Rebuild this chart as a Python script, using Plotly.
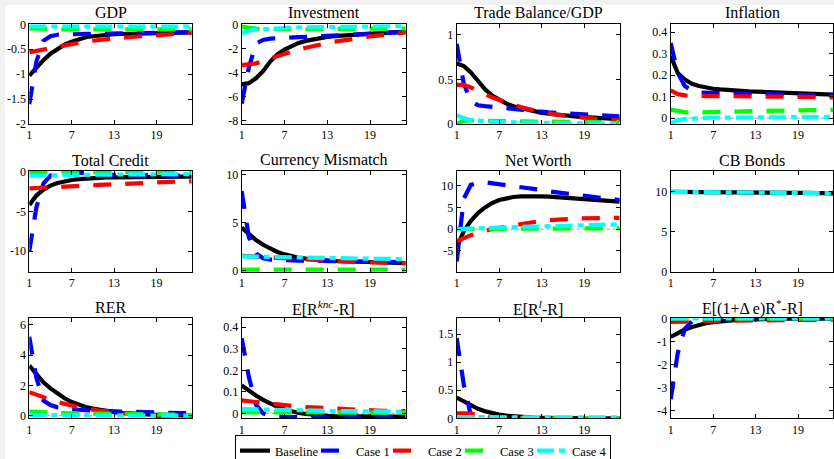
import plotly.graph_objects as go

periods = list(range(1, 25))
x_tick_vals = [1, 7, 13, 19]
x_tick_text = ["1", "7", "13", "19"]

series_names = ["Baseline", "Case 1", "Case 2", "Case 3", "Case 4"]
series_colors = ["#000000", "#0000ff", "#ff0000", "#00ff00", "#00ffff"]

# ---- GDP ----
gdp_base = [-1.03, -0.87, -0.72, -0.59, -0.49, -0.41, -0.35, -0.30, -0.26, -0.24, -0.22, -0.21,
            -0.20, -0.195, -0.19, -0.185, -0.18, -0.18, -0.175, -0.17, -0.17, -0.165, -0.16, -0.16]
gdp_c1 = [-1.60, -0.75, -0.33, -0.24, -0.21, -0.20, -0.20, -0.20, -0.19, -0.19, -0.19, -0.18,
          -0.18, -0.18, -0.18, -0.17, -0.17, -0.17, -0.17, -0.16, -0.16, -0.16, -0.16, -0.16]
gdp_c2 = [-0.56, -0.54, -0.51, -0.48, -0.45, -0.42, -0.39, -0.37, -0.35, -0.33, -0.31, -0.30,
          -0.28, -0.27, -0.26, -0.25, -0.24, -0.23, -0.22, -0.21, -0.20, -0.19, -0.18, -0.17]
gdp_c3 = [-0.08, -0.09, -0.09, -0.10, -0.10, -0.10, -0.10, -0.10, -0.10, -0.10, -0.10, -0.10,
          -0.10, -0.10, -0.10, -0.10, -0.10, -0.10, -0.10, -0.10, -0.10, -0.10, -0.10, -0.10]
gdp_c4 = [-0.04, -0.04, -0.04, -0.04, -0.04, -0.04, -0.04, -0.04, -0.04, -0.04, -0.04, -0.04,
          -0.04, -0.04, -0.04, -0.04, -0.04, -0.04, -0.04, -0.04, -0.04, -0.04, -0.04, -0.04]

# ---- Investment ----
inv_base = [-5.0, -4.9, -4.5, -3.9, -3.1, -2.5, -2.1, -1.8, -1.55, -1.38, -1.25, -1.14,
            -1.05, -0.98, -0.93, -0.88, -0.84, -0.80, -0.77, -0.74, -0.71, -0.68, -0.65, -0.62]
inv_c1 = [-6.6, -3.6, -1.6, -1.3, -1.2, -1.15, -1.1, -1.08, -1.06, -1.04, -1.02, -1.0,
          -0.97, -0.94, -0.91, -0.88, -0.85, -0.82, -0.79, -0.76, -0.73, -0.70, -0.67, -0.64]
inv_c2 = [-3.4, -3.35, -3.25, -3.05, -2.85, -2.7, -2.5, -2.3, -2.1, -1.95, -1.8, -1.68,
          -1.56, -1.45, -1.35, -1.26, -1.17, -1.09, -1.01, -0.94, -0.87, -0.80, -0.74, -0.68]
inv_c3 = [-0.2, -0.3, -0.36, -0.39, -0.40, -0.41, -0.41, -0.41, -0.40, -0.40, -0.40, -0.39,
          -0.39, -0.38, -0.38, -0.38, -0.37, -0.37, -0.37, -0.36, -0.36, -0.36, -0.35, -0.35]
inv_c4 = [-0.75, -0.55, -0.45, -0.40, -0.36, -0.33, -0.30, -0.28, -0.26, -0.25, -0.24, -0.23,
          -0.22, -0.21, -0.20, -0.19, -0.18, -0.18, -0.17, -0.16, -0.16, -0.15, -0.15, -0.14]

# ---- Trade Balance/GDP ----
tb_base = [0.68, 0.65, 0.58, 0.48, 0.39, 0.32, 0.27, 0.23, 0.20, 0.18, 0.16, 0.14,
           0.125, 0.115, 0.105, 0.097, 0.09, 0.083, 0.077, 0.072, 0.067, 0.062, 0.058, 0.054]
tb_c1 = [0.90, 0.45, 0.26, 0.21, 0.20, 0.195, 0.19, 0.18, 0.17, 0.16, 0.15, 0.14,
         0.135, 0.13, 0.125, 0.12, 0.115, 0.11, 0.105, 0.10, 0.097, 0.094, 0.09, 0.087]
tb_c2 = [0.44, 0.44, 0.41, 0.37, 0.33, 0.30, 0.27, 0.24, 0.21, 0.19, 0.17, 0.15,
         0.135, 0.12, 0.105, 0.095, 0.085, 0.075, 0.067, 0.06, 0.055, 0.05, 0.046, 0.042]
tb_c3 = [0.0, 0.035, 0.04, 0.04, 0.038, 0.036, 0.034, 0.032, 0.031, 0.03, 0.029, 0.028,
         0.027, 0.026, 0.025, 0.024, 0.023, 0.022, 0.022, 0.021, 0.02, 0.02, 0.019, 0.019]
tb_c4 = [0.10, 0.065, 0.045, 0.035, 0.028, 0.024, 0.02, 0.018, 0.016, 0.014, 0.013, 0.012,
         0.011, 0.01, 0.01, 0.009, 0.009, 0.008, 0.008, 0.007, 0.007, 0.007, 0.006, 0.006]

# ---- Inflation ----
inf_base = [0.29, 0.21, 0.18, 0.16, 0.15, 0.142, 0.137, 0.134, 0.131, 0.129, 0.127, 0.125,
            0.124, 0.123, 0.122, 0.121, 0.12, 0.118, 0.117, 0.115, 0.114, 0.112, 0.111, 0.11]
inf_c1 = [0.35, 0.21, 0.15, 0.128, 0.12, 0.118, 0.117, 0.117, 0.116, 0.116, 0.115, 0.115,
          0.114, 0.114, 0.113, 0.113, 0.112, 0.111, 0.11, 0.109, 0.108, 0.107, 0.106, 0.105]
inf_c2 = [0.13, 0.112, 0.106, 0.104, 0.103, 0.103, 0.103, 0.103, 0.103, 0.102, 0.102, 0.102,
          0.102, 0.101, 0.101, 0.101, 0.1, 0.1, 0.1, 0.099, 0.099, 0.098, 0.098, 0.097]
inf_c3 = [0.04, 0.032, 0.028, 0.026, 0.026, 0.027, 0.028, 0.029, 0.03, 0.031, 0.032, 0.033,
          0.034, 0.035, 0.035, 0.036, 0.036, 0.037, 0.037, 0.038, 0.038, 0.038, 0.039, 0.039]
inf_c4 = [-0.025, -0.01, -0.004, -0.001, 0.0, 0.001, 0.002, 0.002, 0.003, 0.003, 0.003, 0.004,
          0.004, 0.004, 0.004, 0.005, 0.005, 0.005, 0.005, 0.005, 0.006, 0.006, 0.006, 0.006]

# ---- Total Credit ----
tc_base = [-4.2, -3.0, -2.25, -1.75, -1.42, -1.2, -1.05, -0.94, -0.86, -0.8, -0.76, -0.73,
           -0.71, -0.69, -0.68, -0.67, -0.66, -0.65, -0.65, -0.64, -0.64, -0.63, -0.63, -0.63]
tc_c1 = [-10.0, -4.5, -1.5, -0.5, -0.15, 0.0, -0.05, -0.15, -0.25, -0.3, -0.35, -0.38,
         -0.4, -0.42, -0.44, -0.45, -0.46, -0.47, -0.48, -0.49, -0.5, -0.5, -0.5, -0.5]
tc_c2 = [-2.1, -2.07, -2.03, -1.99, -1.95, -1.9, -1.86, -1.81, -1.76, -1.71, -1.66, -1.61,
         -1.57, -1.53, -1.49, -1.45, -1.42, -1.38, -1.35, -1.32, -1.29, -1.26, -1.24, -1.22]
tc_c3 = [-0.05, -0.05, -0.05, -0.05, -0.05, -0.05, -0.05, -0.05, -0.05, -0.05, -0.05, -0.05,
         -0.05, -0.05, -0.05, -0.05, -0.05, -0.05, -0.05, -0.05, -0.05, -0.05, -0.05, -0.05]
tc_c4 = [-0.55, -0.5, -0.46, -0.44, -0.42, -0.41, -0.4, -0.39, -0.38, -0.37, -0.36, -0.36,
         -0.35, -0.35, -0.34, -0.34, -0.33, -0.33, -0.32, -0.32, -0.31, -0.31, -0.3, -0.3]

# ---- Currency Mismatch ----
cm_base = [4.5, 3.8, 3.2, 2.7, 2.3, 1.95, 1.7, 1.5, 1.35, 1.25, 1.17, 1.1,
           1.05, 1.01, 0.98, 0.95, 0.92, 0.9, 0.88, 0.86, 0.84, 0.82, 0.8, 0.78]
cm_c1 = [8.3, 3.5, 1.8, 1.3, 1.15, 1.1, 1.07, 1.05, 1.04, 1.03, 1.02, 1.01,
         1.0, 0.99, 0.98, 0.97, 0.96, 0.95, 0.94, 0.93, 0.92, 0.91, 0.9, 0.89]
cm_c2 = [1.55, 1.5, 1.45, 1.4, 1.35, 1.3, 1.25, 1.2, 1.16, 1.12, 1.08, 1.05,
         1.02, 0.99, 0.96, 0.94, 0.91, 0.89, 0.87, 0.85, 0.83, 0.81, 0.79, 0.77]
cm_c3 = [0.1, 0.1, 0.1, 0.1, 0.1, 0.1, 0.1, 0.1, 0.1, 0.1, 0.1, 0.1,
         0.1, 0.1, 0.1, 0.1, 0.1, 0.1, 0.1, 0.1, 0.1, 0.1, 0.1, 0.1]
cm_c4 = [1.5, 1.48, 1.46, 1.45, 1.43, 1.42, 1.4, 1.39, 1.37, 1.36, 1.34, 1.33,
         1.32, 1.3, 1.29, 1.28, 1.27, 1.26, 1.25, 1.24, 1.23, 1.22, 1.21, 1.2]

# ---- Net Worth ----
nw_base = [-4.2, -0.5, 1.9, 3.7, 5.0, 6.0, 6.7, 7.1, 7.4, 7.55, 7.6, 7.6,
           7.55, 7.5, 7.4, 7.35, 7.25, 7.15, 7.05, 6.9, 6.8, 6.65, 6.5, 6.35]
nw_c1 = [-7.5, 7.0, 10.2, 10.7, 10.8, 10.6, 10.3, 10.0, 9.8, 9.6, 9.4, 9.2,
         9.0, 8.7, 8.5, 8.2, 8.0, 7.8, 7.6, 7.4, 7.2, 7.0, 6.9, 6.7]
nw_c2 = [-2.8, -2.0, -1.4, -0.9, -0.4, 0.0, 0.3, 0.6, 0.9, 1.2, 1.45, 1.7,
         1.9, 2.05, 2.2, 2.3, 2.4, 2.45, 2.5, 2.55, 2.6, 2.6, 2.6, 2.6]
nw_c3 = [0.0, 0.01, 0.02, 0.03, 0.04, 0.05, 0.06, 0.07, 0.08, 0.09, 0.1, 0.11,
         0.12, 0.13, 0.13, 0.14, 0.15, 0.16, 0.16, 0.17, 0.18, 0.18, 0.19, 0.2]
nw_c4 = [0.0, 0.1, 0.15, 0.2, 0.25, 0.3, 0.35, 0.4, 0.45, 0.5, 0.55, 0.6,
         0.65, 0.7, 0.73, 0.77, 0.8, 0.85, 0.88, 0.92, 0.96, 1.0, 1.05, 1.1]

# ---- CB Bonds ----
cb_base = [10.0, 10.0, 9.99, 9.99, 9.98, 9.98, 9.97, 9.96, 9.96, 9.95, 9.94, 9.94,
           9.93, 9.92, 9.91, 9.9, 9.89, 9.88, 9.87, 9.86, 9.85, 9.84, 9.83, 9.82]
cb_c4 = [10.0, 10.0, 9.99, 9.99, 9.98, 9.98, 9.97, 9.96, 9.96, 9.95, 9.94, 9.94,
         9.93, 9.92, 9.91, 9.9, 9.89, 9.88, 9.87, 9.86, 9.85, 9.84, 9.83, 9.82]

# ---- RER ----
rer_base = [3.3, 2.7, 2.2, 1.8, 1.45, 1.15, 0.9, 0.72, 0.58, 0.47, 0.38, 0.3,
            0.24, 0.19, 0.15, 0.12, 0.1, 0.08, 0.06, 0.05, 0.03, 0.02, 0.01, 0.0]
rer_c1 = [5.2, 2.5, 1.0, 0.7, 0.55, 0.47, 0.42, 0.39, 0.36, 0.34, 0.32, 0.3,
          0.28, 0.27, 0.26, 0.24, 0.23, 0.22, 0.21, 0.2, 0.19, 0.18, 0.17, 0.16]
rer_c2 = [1.55, 1.38, 1.2, 1.05, 0.9, 0.78, 0.67, 0.57, 0.48, 0.4, 0.33, 0.27,
          0.21, 0.16, 0.12, 0.08, 0.04, 0.0, -0.03, -0.06, -0.09, -0.11, -0.13, -0.15]
rer_c3 = [0.27, 0.24, 0.22, 0.2, 0.18, 0.17, 0.16, 0.15, 0.14, 0.13, 0.12, 0.12,
          0.11, 0.11, 0.1, 0.1, 0.09, 0.09, 0.08, 0.08, 0.07, 0.07, 0.06, 0.06]
rer_c4 = [0.05, 0.05, 0.04, 0.04, 0.04, 0.04, 0.04, 0.03, 0.03, 0.03, 0.03, 0.03,
          0.03, 0.02, 0.02, 0.02, 0.02, 0.02, 0.01, 0.01, 0.01, 0.01, 0.0, 0.0]

# ---- E[R^knc - R] ----
knc_base = [0.13, 0.105, 0.083, 0.063, 0.045, 0.03, 0.018, 0.009, 0.002, -0.003, -0.007, -0.01,
            -0.012, -0.013, -0.014, -0.014, -0.015, -0.015, -0.015, -0.015, -0.015, -0.015, -0.015, -0.015]
knc_c1 = [0.35, 0.17, 0.04, 0.0, -0.01, -0.015, -0.017, -0.018, -0.018, -0.018, -0.018, -0.018,
          -0.018, -0.018, -0.018, -0.018, -0.018, -0.018, -0.017, -0.017, -0.017, -0.017, -0.017, -0.017]
knc_c2 = [0.06, 0.056, 0.052, 0.048, 0.044, 0.04, 0.037, 0.034, 0.031, 0.029, 0.027, 0.025,
          0.023, 0.021, 0.019, 0.018, 0.016, 0.015, 0.014, 0.013, 0.012, 0.011, 0.01, 0.01]
knc_c3 = [0.005, 0.005, 0.005, 0.005, 0.005, 0.005, 0.005, 0.004, 0.004, 0.004, 0.004, 0.004,
          0.004, 0.004, 0.004, 0.004, 0.003, 0.003, 0.003, 0.003, 0.003, 0.003, 0.003, 0.003]
knc_c4 = [0.02, 0.019, 0.019, 0.018, 0.018, 0.017, 0.016, 0.016, 0.015, 0.014, 0.013, 0.012,
          0.012, 0.011, 0.011, 0.01, 0.01, 0.01, 0.009, 0.009, 0.009, 0.008, 0.008, 0.008]

# ---- E[R^l - R] ----
rl_base = [0.37, 0.3, 0.23, 0.17, 0.125, 0.09, 0.065, 0.047, 0.034, 0.025, 0.018, 0.013,
           0.01, 0.007, 0.005, 0.004, 0.003, 0.002, 0.002, 0.001, 0.001, 0.001, 0.0, 0.0]
rl_c1 = [1.43, 0.6, 0.05, 0.005, 0.0, 0.0, 0.0, 0.0, 0.0, 0.0, 0.0, 0.0,
         0.0, 0.0, 0.0, 0.0, 0.0, 0.0, 0.0, 0.0, 0.0, 0.0, 0.0, 0.0]
rl_c2 = [0.09, 0.09, 0.088, 0.05, 0.03, 0.02, 0.015, 0.01, 0.008, 0.006, 0.005, 0.004,
         0.003, 0.003, 0.002, 0.002, 0.002, 0.001, 0.001, 0.001, 0.001, 0.001, 0.001, 0.001]
rl_c3 = [0.005, 0.005, 0.005, 0.005, 0.005, 0.005, 0.005, 0.005, 0.005, 0.005, 0.005, 0.005,
         0.005, 0.005, 0.005, 0.005, 0.005, 0.005, 0.005, 0.005, 0.005, 0.005, 0.005, 0.005]
rl_c4 = [0.02, 0.02, 0.02, 0.02, 0.02, 0.02, 0.019, 0.019, 0.019, 0.019, 0.018, 0.018,
         0.018, 0.018, 0.018, 0.018, 0.017, 0.017, 0.017, 0.017, 0.017, 0.017, 0.017, 0.017]

# ---- E[(1+Δe)R* - R] ----
ue_base = [-0.8, -0.62, -0.48, -0.37, -0.28, -0.21, -0.16, -0.12, -0.09, -0.07, -0.055, -0.042,
           -0.033, -0.026, -0.02, -0.016, -0.012, -0.01, -0.008, -0.006, -0.005, -0.004, -0.003, -0.003]
ue_c1 = [-3.5, -1.5, -0.45, -0.12, -0.04, -0.01, 0.0, 0.0, 0.0, 0.0, 0.0, 0.0,
         0.0, 0.0, 0.0, 0.0, 0.0, 0.0, 0.0, 0.0, 0.0, 0.0, 0.0, 0.0]
ue_c2 = [-0.15, -0.15, -0.15, -0.14, -0.13, -0.12, -0.11, -0.1, -0.095, -0.09, -0.085, -0.08,
         -0.075, -0.07, -0.07, -0.065, -0.065, -0.06, -0.06, -0.055, -0.055, -0.05, -0.05, -0.05]
ue_c3 = [0.0] * 24
ue_c4 = [0.0] * 24

panel_titles = ["GDP", "Investment", "Trade Balance/GDP", "Inflation",
                "Total Credit", "Currency Mismatch", "Net Worth", "CB Bonds",
                "RER", "E[R<sup><i>knc</i></sup>-R]", "E[R<sup><i>l</i></sup>-R]",
                "E[(1+Δ e)R<sup>*</sup>-R]"]

panel_series = [
    [gdp_base, gdp_c1, gdp_c2, gdp_c3, gdp_c4],
    [inv_base, inv_c1, inv_c2, inv_c3, inv_c4],
    [tb_base, tb_c1, tb_c2, tb_c3, tb_c4],
    [inf_base, inf_c1, inf_c2, inf_c3, inf_c4],
    [tc_base, tc_c1, tc_c2, tc_c3, tc_c4],
    [cm_base, cm_c1, cm_c2, cm_c3, cm_c4],
    [nw_base, nw_c1, nw_c2, nw_c3, nw_c4],
    [cb_base, None, None, None, cb_c4],
    [rer_base, rer_c1, rer_c2, rer_c3, rer_c4],
    [knc_base, knc_c1, knc_c2, knc_c3, knc_c4],
    [rl_base, rl_c1, rl_c2, rl_c3, rl_c4],
    [ue_base, ue_c1, ue_c2, ue_c3, ue_c4],
]

panel_yranges = [[-2, 0], [-8.3, 0], [0, 1.12], [-0.027, 0.437],
                 [-12.6, 0.08], [-0.14, 10.4], [-9.9, 13.4], [0, 12.6],
                 [-0.17, 6.44], [-0.023, 0.443], [0, 1.79], [-4.33, 0.02]]

panel_ytick_vals = [[0, -0.5, -1, -1.5, -2], [0, -2, -4, -6, -8], [0, 0.5, 1],
                    [0, 0.1, 0.2, 0.3, 0.4], [0, -5, -10], [0, 5, 10], [-5, 0, 5, 10],
                    [0, 5, 10], [0, 2, 4, 6], [0, 0.1, 0.2, 0.3, 0.4], [0, 0.5, 1, 1.5],
                    [0, -1, -2, -3, -4]]
panel_ytick_text = [["0", "-0.5", "-1", "-1.5", "-2"], ["0", "-2", "-4", "-6", "-8"],
                    ["0", "0.5", "1"], ["0", "0.1", "0.2", "0.3", "0.4"], ["0", "-5", "-10"],
                    ["0", "5", "10"], ["-5", "0", "5", "10"], ["0", "5", "10"],
                    ["0", "2", "4", "6"], ["0", "0.1", "0.2", "0.3", "0.4"],
                    ["0", "0.5", "1", "1.5"], ["0", "-1", "-2", "-3", "-4"]]

# ---- layout geometry (pixels) ----
W, H = 834, 459
col_px = [(29.3, 191.7), (241.7, 405.7), (456.7, 619.7), (670.7, 833.4)]
row_px = [(24.3, 124.0), (171.0, 272.0), (318.0, 418.3)]
title_y_px = [12.5, 160.0, 307.5]

FONT = "Liberation Serif"
dash_styles = ["solid", "18px,14px", "18px,14px", "18px,14px", "17px,5px,6px,5px"]
legend_w = [36, 27, 27, 27, 33]

fig = go.Figure()
shapes = []
annotations = []

for i in range(12):
    r, c = divmod(i, 4)
    n = i + 1
    xa = "x" if n == 1 else f"x{n}"
    ya = "y" if n == 1 else f"y{n}"
    for k in range(5):
        vals = panel_series[i][k]
        if vals is None:
            continue
        fig.add_trace(go.Scatter(
            x=periods, y=vals, mode="lines", name=series_names[k],
            legendgroup=series_names[k], showlegend=(i == 0),
            legendwidth=legend_w[k],
            line=dict(color=series_colors[k], width=4.2, dash=dash_styles[k]),
            xaxis=xa, yaxis=ya, hoverinfo="skip"))
    x0, x1 = col_px[c]
    y0, y1 = row_px[r]
    axis_common = dict(showline=True, linecolor="black", linewidth=1, mirror="ticks",
                       ticks="inside", ticklen=4, tickcolor="black", tickwidth=1,
                       showgrid=False, zeroline=False,
                       tickfont=dict(family=FONT, size=12, color="black"))
    fig.layout[f"xaxis{n}"] = dict(domain=[x0 / W, x1 / W], anchor=ya, range=[1, 24],
                                   tickmode="array", tickvals=x_tick_vals, ticktext=x_tick_text,
                                   **axis_common)
    fig.layout[f"yaxis{n}"] = dict(domain=[1 - y1 / H, 1 - y0 / H], anchor=xa,
                                   range=panel_yranges[i], tickmode="array",
                                   tickvals=panel_ytick_vals[i], ticktext=panel_ytick_text[i],
                                   **axis_common)
    lo, hi = panel_yranges[i]
    frac = (0 - lo) / (hi - lo)
    if 0.02 < frac < 0.98:
        shapes.append(dict(type="line", xref=f"{xa} domain", yref=ya, x0=0, x1=1, y0=0, y1=0,
                           line=dict(color="#9a9a9a", width=1, dash="dot"), layer="below"))
    annotations.append(dict(text=panel_titles[i], xref="paper", yref="paper",
                            x=(x0 + x1) / 2 / W, y=1 - title_y_px[r] / H,
                            xanchor="center", yanchor="middle", showarrow=False,
                            font=dict(family=FONT, size=16, color="black")))

# light grey frame strips at the top and left of the picture
shapes.append(dict(type="rect", xref="paper", yref="paper", x0=0, x1=1, y0=1 - 5 / H, y1=1,
                   fillcolor="#f2f2f2", line=dict(width=0), layer="below"))
shapes.append(dict(type="rect", xref="paper", yref="paper", x0=0, x1=5 / W, y0=0, y1=1,
                   fillcolor="#f2f2f2", line=dict(width=0), layer="below"))

fig.update_layout(
    width=W, height=H,
    margin=dict(l=0, r=0, t=0, b=0, autoexpand=False),
    paper_bgcolor="white", plot_bgcolor="white",
    shapes=shapes, annotations=annotations,
    showlegend=True,
    legend=dict(orientation="h", x=235 / W, xanchor="left", y=1 - 435 / H, yanchor="top",
                bordercolor="black", borderwidth=1, bgcolor="white",
                font=dict(family=FONT, size=12.5, color="black"),
                tracegroupgap=0, itemclick=False, itemdoubleclick=False),
)

fig.write_html("out.html",
               config={"displayModeBar": False},
               post_script="document.body.style.margin='0px';document.body.style.overflow='hidden';")
